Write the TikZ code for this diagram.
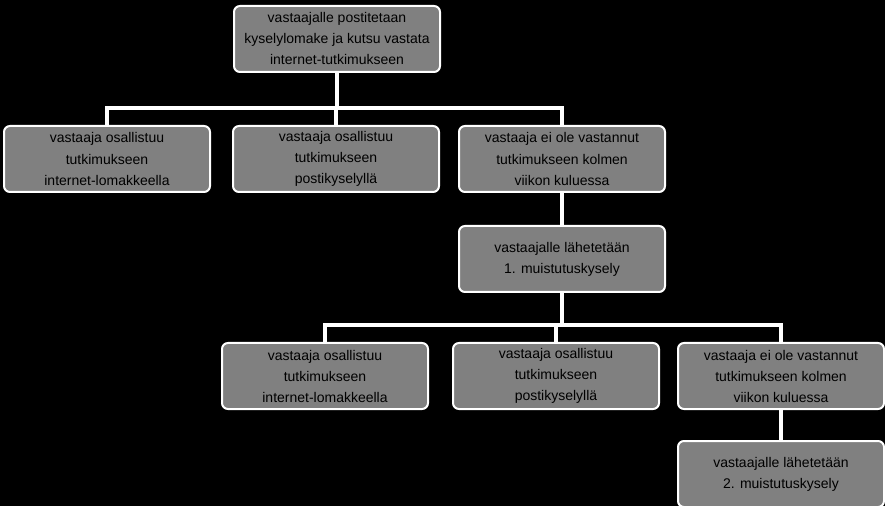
\documentclass[tikz,border=0pt]{standalone}
\usepackage{fontspec}
\setmainfont{Liberation Sans}
\begin{document}
\begin{tikzpicture}[x=1pt,y=1pt,
 box/.style={draw=white,line width=2pt,fill=boxgray,rounded corners=6pt,minimum width=206pt,minimum height=66pt,align=center,font=\fontsize{14}{21}\selectfont,inner sep=1pt,anchor=north west},
 conn/.style={draw=white,line width=3.5pt}]
\definecolor{boxgray}{RGB}{128,128,128}
\fill[black] (0,0) rectangle (885,506);
\useasboundingbox (0,0) rectangle (885,506);
\node[box] (top) at (233,501) {vastaajalle postitetaan\\kyselylomake ja kutsu vastata\\internet-tutkimukseen};
\node[box] (a) at (3,381) {vastaaja osallistuu\\tutkimukseen\\internet-lomakkeella};
\node[box] (b) at (232,381) {vastaaja osallistuu\\tutkimukseen\\postikyselyllä};
\node[box] (c) at (458,381) {vastaaja ei ole vastannut\\tutkimukseen kolmen\\viikon kuluessa};
\node[box] (d) at (458,281) {vastaajalle lähetetään\\1. muistutuskysely};
\node[box] (e) at (221,164) {vastaaja osallistuu\\tutkimukseen\\internet-lomakkeella};
\node[box] (f) at (452,164) {vastaaja osallistuu\\tutkimukseen\\postikyselyllä};
\node[box] (g) at (677,164) {vastaaja ei ole vastannut\\tutkimukseen kolmen\\viikon kuluessa};
\node[box] (h) at (677,66) {vastaajalle lähetetään\\2. muistutuskysely};
\coordinate (j1) at (top.south |- 0,398);
\coordinate (j2) at (d.south |- 0,181);
\draw[conn] (top.south) -- (j1);
\draw[conn] (a.north) |- (j1) -| (c.north);
\draw[conn] (j1 -| b.north) -- (b.north);
\draw[conn] (c.south) -- (d.north);
\draw[conn] (d.south) -- (j2);
\draw[conn] (e.north) |- (j2) -| (g.north);
\draw[conn] (j2 -| f.north) -- (f.north);
\draw[conn] (g.south) -- (h.north);
\end{tikzpicture}
\end{document}
